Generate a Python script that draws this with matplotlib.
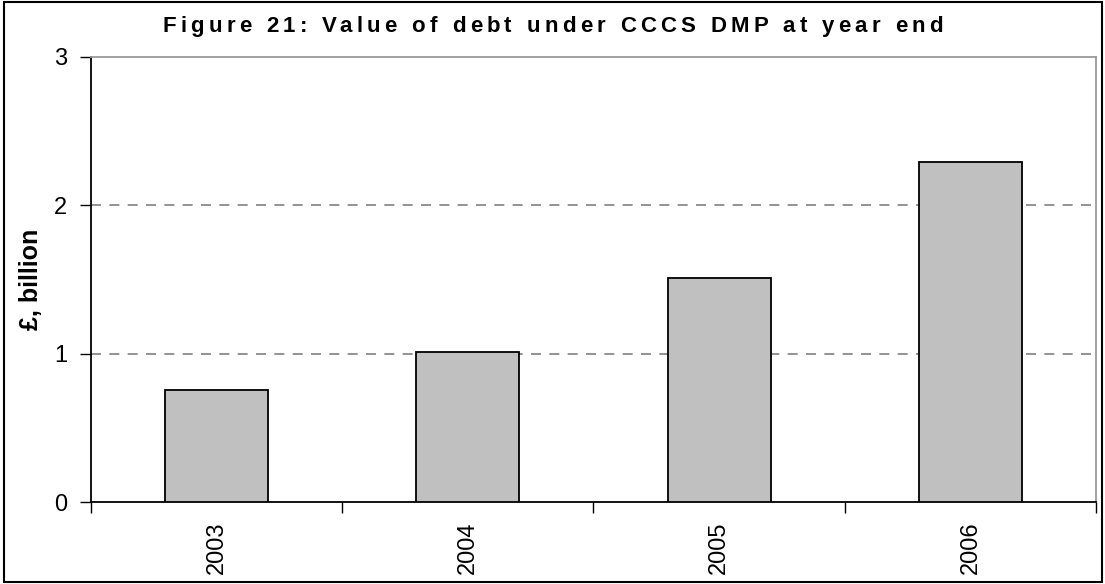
import matplotlib
matplotlib.use("Agg")
import matplotlib.pyplot as plt
from matplotlib.patches import Rectangle
import numpy as np

# Data
years = ["2003", "2004", "2005", "2006"]
debt_bn = [0.755, 1.01, 1.51, 2.29]
y_ticks = [0, 1, 2, 3]
title = "Figure 21: Value of debt under CCCS DMP at year end"

plt.rcParams["font.family"] = ["Liberation Sans", "DejaVu Sans"]

fig = plt.figure(figsize=(11.05, 5.84), dpi=100)
ax = fig.add_axes([0.0821, 0.1404, 0.9098, 0.7620])

x = np.arange(len(years))
ax.bar(x, debt_bn, width=0.41, color="#c0c0c0", edgecolor="black",
       linewidth=1.3, zorder=3)

ax.set_xlim(-0.5, len(years) - 0.5)
ax.set_ylim(0, 3)

# category ticks at the boundaries, labels centred on the bars
ax.set_xticks(np.arange(-0.5, len(years), 1.0))
ax.set_xticklabels([])
ax.set_xticks(x, minor=True)
ax.set_xticklabels(years, minor=True, rotation=90, fontsize=17, va="top")
ax.tick_params(axis="x", which="major", direction="out", length=8, width=1)
ax.tick_params(axis="x", which="minor", length=0, pad=14)

ax.set_yticks(y_ticks)
ax.set_yticklabels([str(v) for v in y_ticks], fontsize=17)
ax.tick_params(axis="y", direction="out", length=8, width=1, pad=9)

for v in y_ticks[1:-1]:
    ax.axhline(v, color="#808080", linestyle=(0, (6, 5)), linewidth=1.2, zorder=1)

ax.spines["left"].set_color("black")
ax.spines["bottom"].set_color("black")
ax.spines["top"].set_color("#9a9a9a")
ax.spines["right"].set_color("#9a9a9a")
for s in ax.spines.values():
    s.set_linewidth(1.3)

ax.set_ylabel("£, billion", fontsize=18, fontweight="bold", labelpad=8)


def tracked_text(fig, text, xc, y, spacing_px, **kw):
    """Draw text centred at xc with extra letter spacing (no native support)."""
    renderer = fig.canvas.get_renderer()
    fig_w = fig.get_figwidth() * fig.dpi

    def width(s):
        t = fig.text(0, 0, s, **kw)
        w = t.get_window_extent(renderer).width
        t.remove()
        return w

    starts = []
    for i, ch in enumerate(text):
        left = width(text[:i + 1]) - width(ch) if ch != " " else None
        starts.append(left)
    total = width(text) + spacing_px * (len(text) - 1)
    x0 = xc * fig_w - total / 2
    for i, ch in enumerate(text):
        if ch == " ":
            continue
        fig.text((x0 + starts[i] + spacing_px * i) / fig_w, y, ch,
                 ha="left", va="center", **kw)


tracked_text(fig, title, 0.5, 0.955, 4.3, fontsize=16, fontweight="bold")

# outer frame round the whole figure
fig.patches.append(Rectangle((0.004, 0.003), 0.993, 0.993, transform=fig.transFigure,
                             fill=False, edgecolor="black", linewidth=1.5))

fig.savefig("out.png", dpi=100)
